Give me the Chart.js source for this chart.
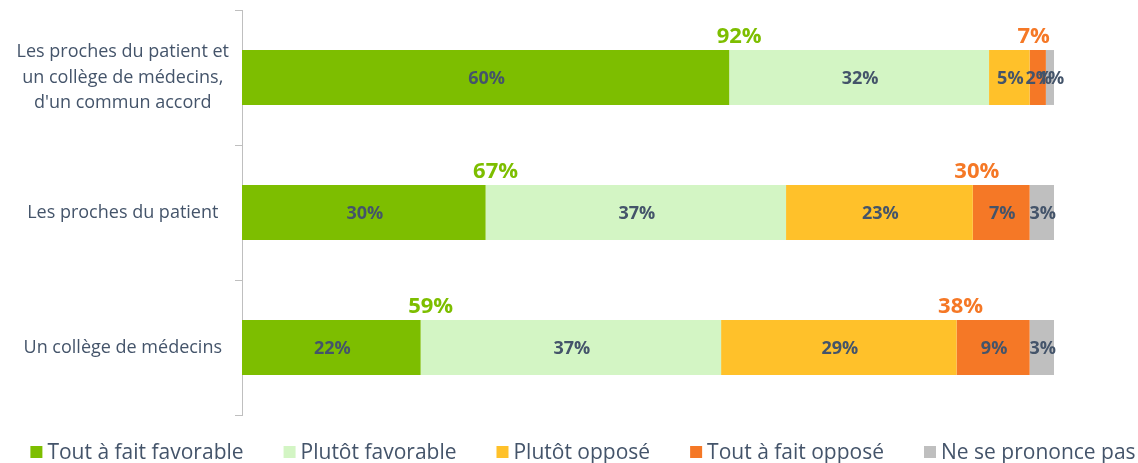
<!DOCTYPE html>
<html>
<head>
<meta charset="utf-8">
<script src="https://cdn.jsdelivr.net/npm/chart.js@4/dist/chart.umd.min.js"></script>
<style>
html,body{margin:0;padding:0;background:#fff;}
#wrap{width:1138px;height:463px;position:relative;}
</style>
</head>
<body>
<div id="wrap"><canvas id="c" width="1138" height="463"></canvas></div>
<script>
const categories = [["Les proches du patient et", "un collège de médecins,", "d'un commun accord"], "Les proches du patient", "Un collège de médecins"];
const seriesNames = ["Tout à fait favorable", "Plutôt favorable", "Plutôt opposé", "Tout à fait opposé", "Ne se prononce pas"];
const toutFavorable = [60, 30, 22];
const plutotFavorable = [32, 37, 37];
const plutotOppose = [5, 23, 29];
const toutOppose = [2, 7, 9];
const nspp = [1, 3, 3];
const totalFavorable = [92, 67, 59];
const totalOppose = [7, 30, 38];

const colors = ["#7DBE00", "#D3F5C4", "#FFC12A", "#F57826", "#BFBFBF"];
const textColor = "#44546A";
const FONT = "'Open Sans', 'DejaVu Sans', sans-serif";

const labelsPlugin = {
  id: 'segLabels',
  afterDatasetsDraw(chart) {
    const ctx = chart.ctx;
    ctx.save();
    ctx.textAlign = 'center';
    ctx.textBaseline = 'middle';
    ctx.font = "bold 18px " + FONT;
    ctx.fillStyle = textColor;
    chart.data.datasets.forEach((ds, di) => {
      const meta = chart.getDatasetMeta(di);
      meta.data.forEach((bar, i) => {
        const left = Math.min(bar.x, bar.base), right = Math.max(bar.x, bar.base);
        ctx.fillText(ds.data[i] + '%', (left + right) / 2 + 1, bar.y + 1);
      });
    });
    // totals
    ctx.font = "bold 22px " + FONT;
    const m1 = chart.getDatasetMeta(0), m3 = chart.getDatasetMeta(2);
    for (let i = 0; i < categories.length; i++) {
      const b1 = m1.data[i], b3 = m3.data[i];
      const top = b1.y - b1.height / 2;
      ctx.fillStyle = "#7DBE00";
      ctx.fillText(totalFavorable[i] + '%', b1.x + 10, top - 13);
      ctx.fillStyle = "#F57826";
      ctx.fillText(totalOppose[i] + '%', b3.x + 4, top - 13);
    }
    ctx.restore();
  }
};

const legendPlugin = {
  id: 'customLegend',
  afterDraw(chart) {
    const ctx = chart.ctx;
    ctx.save();
    ctx.font = "21px " + FONT;
    ctx.textBaseline = 'middle';
    ctx.textAlign = 'left';
    const box = 12, gapBox = 5, gap = 40;
    const widths = seriesNames.map(t => box + gapBox + ctx.measureText(t).width);
    const total = widths.reduce((a, b) => a + b, 0) + gap * (widths.length - 1);
    let x = (chart.width - total) / 2 + 14;
    const y = 452;
    seriesNames.forEach((t, i) => {
      ctx.fillStyle = colors[i];
      ctx.fillRect(x, y - box / 2, box, box);
      ctx.fillStyle = textColor;
      ctx.fillText(t, x + box + gapBox, y + 1);
      x += widths[i] + gap;
    });
    ctx.restore();
  }
};

const datasets = [toutFavorable, plutotFavorable, plutotOppose, toutOppose, nspp].map((d, i) => ({
  label: seriesNames[i],
  data: d,
  backgroundColor: colors[i],
  borderWidth: 0,
  categoryPercentage: 1,
  barPercentage: 0.407
}));

new Chart(document.getElementById('c'), {
  type: 'bar',
  data: { labels: categories, datasets },
  options: {
    indexAxis: 'y',
    responsive: false,
    animation: false,
    layout: { padding: { top: 10, right: 84, bottom: 48, left: 0 } },
    plugins: { legend: { display: false }, tooltip: { enabled: false } },
    scales: {
      x: { stacked: true, min: 0, max: 100, display: false },
      y: {
        stacked: true,
        afterFit(scale) { scale.width = 242; scale.paddingTop = 0; scale.paddingBottom = 0; },
        grid: { display: true, drawOnChartArea: false, drawTicks: true, tickLength: 7, color: '#BFBFBF', offset: true },
        border: { display: true, color: '#BFBFBF', width: 1 },
        ticks: {
          crossAlign: 'center',
          padding: 6,
          color: textColor,
          font: { family: FONT, size: 18, lineHeight: 1.42 }
        }
      }
    }
  },
  plugins: [labelsPlugin, legendPlugin]
});
</script>
</body>
</html>
